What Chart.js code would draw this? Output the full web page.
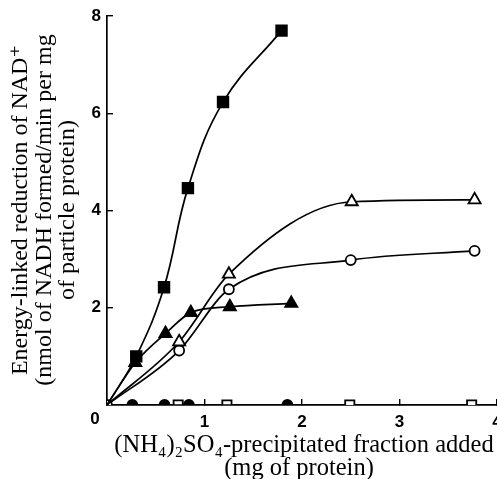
<!DOCTYPE html>
<html>
<head>
<meta charset="utf-8">
<script src="https://cdn.jsdelivr.net/npm/chart.js@4"></script>
<style>
  html, body { margin: 0; padding: 0; background: #fff; }
  #wrap { width: 497px; height: 479px; }
</style>
</head>
<body>
<div id="wrap"><canvas id="chart"></canvas></div>
<script>
// data (x = mg protein, y = nmol NADH/min per mg)

const filledSquareX = [0, 0.30, 0.585, 0.83, 1.19, 1.79]
const filledSquareY = [0, 1.00, 2.42, 4.46, 6.23, 7.70]

const filledTriX = [0, 0.29, 0.60, 0.86, 1.26, 1.89]
const filledTriY = [0, 0.87, 1.47, 1.90, 2.02, 2.09]

const openTriX = [0, 0.74, 1.25, 2.51, 3.77]
const openTriY = [0, 1.30, 2.69, 4.18, 4.22]

const openCircleX = [0, 0.74, 1.25, 2.50, 3.77]
const openCircleY = [0, 1.12, 2.38, 2.98, 3.17]

const filledCircleX = [0.26, 0.59, 0.84, 1.85]
const filledCircleY = [0, 0, 0, 0]

const openSquareX = [0.73, 1.23, 2.49, 3.74]
const openSquareY = [0, 0, 0, 0]

const yTicks = [2, 4, 6, 8]
const xTicks = [1, 2, 3, 4]

function pts(xs, ys) {
  return xs.map((x, i) => ({ x: x, y: ys[i] }))
}

// hide the marker on the shared origin point
function skipOrigin(r) {
  return function(ctx) {
    const p = ctx.raw
    return (p && p.x === 0 && p.y === 0) ? 0 : r
  }
}

function series(label, data, style, fillColor, radius, showOrigin, smooth) {
  const ds = {
    label: label,
    data: data,
    borderColor: '#000',
    borderWidth: 1.7,
    pointStyle: style,
    pointRadius: showOrigin ? radius : skipOrigin(radius),
    pointBackgroundColor: fillColor,
    pointBorderColor: '#000',
    pointBorderWidth: 1.8,
    fill: false,
  }
  if (smooth) ds.tension = 0.4
  else ds.cubicInterpolationMode = 'monotone'
  return ds
}

const serif = '"Liberation Serif", "DejaVu Serif", serif'

const titles = {
  id: 'titles',
  afterDraw(chart) {
    const c = chart.ctx
    c.save()
    c.fillStyle = '#000'
    c.textAlign = 'center'
    c.textBaseline = 'middle'

    // y title, three rotated lines
    c.font = '24px ' + serif
    const yLines = [
      'Energy-linked reduction of NAD\u207A',
      '(nmol of NADH formed/min per mg',
      'of particle protein)',
    ]
    const yPos = [21, 45, 68]
    yLines.forEach((t, i) => {
      c.save()
      c.translate(yPos[i], 210)
      c.rotate(-Math.PI / 2)
      c.fillText(t, 0, 0)
      c.restore()
    })

    // x title
    c.font = '24.5px ' + serif
    c.fillText('(NH\u2084)\u2082SO\u2084-precipitated fraction added', 304, 446)
    c.fillText('(mg of protein)', 299, 469)

    // shared zero label
    c.font = 'bold 17px "Liberation Sans", sans-serif'
    c.fillText('0', 95, 419)
    c.restore()
  }
}

// no extra room for the edge tick labels
function noPad(scale) {
  scale.paddingLeft = 0
  scale.paddingRight = 0
  scale.paddingTop = 0
  scale.paddingBottom = 0
}

const ctx = document.getElementById('chart')

new Chart(ctx, {
  type: 'line',
  data: {
    datasets: [
      series('filled squares', pts(filledSquareX, filledSquareY), 'rect', '#000', 7.5, false, true),
      series('filled triangles', pts(filledTriX, filledTriY), 'triangle', '#000', 7, false, false),
      series('open triangles', pts(openTriX, openTriY), 'triangle', '#fff', 7, false, false),
      series('open circles', pts(openCircleX, openCircleY), 'circle', '#fff', 5, true, false),
      series('filled circles', pts(filledCircleX, filledCircleY), 'circle', '#000', 5, true, false),
      series('open squares', pts(openSquareX, openSquareY), 'rect', '#fff', 6.5, true, false),
    ],
  },
  options: {
    animation: false,
    responsive: true,
    maintainAspectRatio: false,
    layout: {
      autoPadding: false,
      padding: { top: 16, right: 0, left: 0, bottom: 0 },
    },
    plugins: {
      legend: { display: false },
      tooltip: { enabled: false },
    },
    scales: {
      x: {
        type: 'linear',
        min: 0,
        max: 4,
        afterFit: function(scale) { scale.height = 74; noPad(scale) },
        afterBuildTicks: function(scale) {
          scale.ticks = xTicks.map(v => ({ value: v }))
        },
        border: { color: '#000', width: 1.7 },
        grid: { drawOnChartArea: false, color: '#000', lineWidth: 1.4, tickLength: -6 },
        ticks: {
          color: '#000',
          padding: 13,
          maxRotation: 0,
          font: { family: '"Liberation Sans", sans-serif', size: 17, weight: 'bold' },
        },
      },
      y: {
        min: 0,
        max: 8,
        afterFit: function(scale) { scale.width = 107; noPad(scale) },
        afterBuildTicks: function(scale) {
          scale.ticks = yTicks.map(v => ({ value: v }))
        },
        border: { color: '#000', width: 1.7 },
        grid: { drawOnChartArea: false, color: '#000', lineWidth: 1.4, tickLength: -6 },
        ticks: {
          color: '#000',
          padding: 12,
          font: { family: '"Liberation Sans", sans-serif', size: 17, weight: 'bold' },
        },
      },
    },
  },
  plugins: [titles],
});
</script>
</body>
</html>
